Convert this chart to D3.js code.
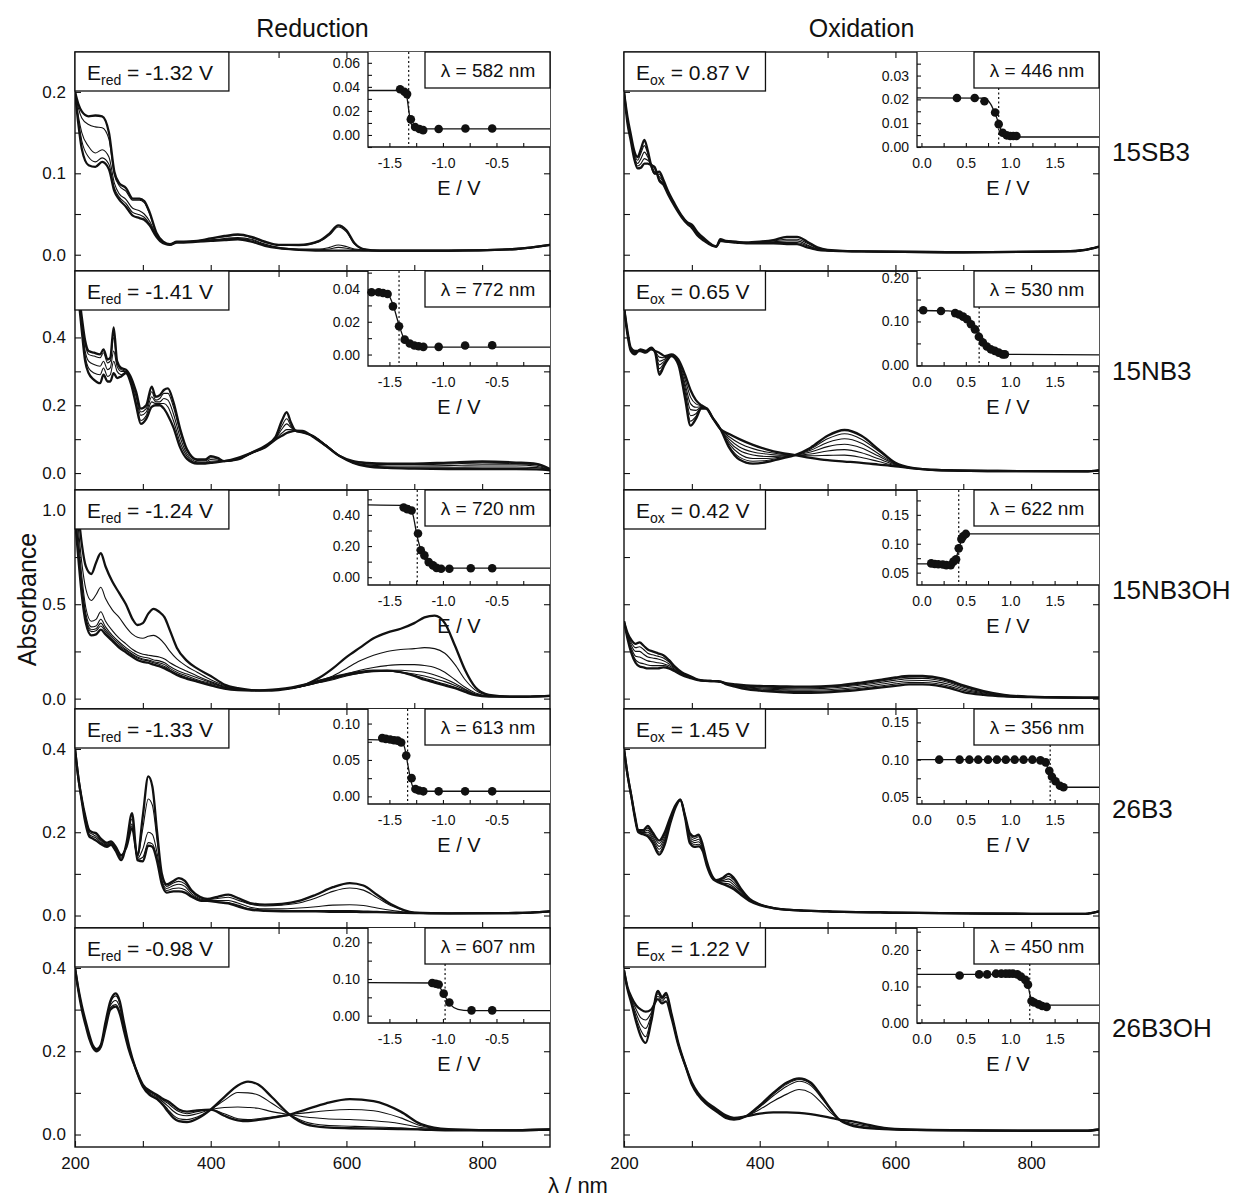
<!DOCTYPE html>
<html>
<head>
<meta charset="utf-8">
<script src="https://cdn.jsdelivr.net/npm/d3@7"></script>
<style>
  body { margin: 0; background: #fff; }
  text { font-family: "Liberation Sans", Arial, sans-serif; fill: #111; }
</style>
</head>
<body>
<div id="chart"></div>
<script>
// ---- rows / labels ----
var compounds = ["15SB3", "15NB3", "15NB3OH", "26B3", "26B3OH"];
var eRed = [-1.32, -1.41, -1.24, -1.33, -0.98];
var eOx = [0.87, 0.65, 0.42, 1.45, 1.22];
var lamRed = [582, 772, 720, 613, 607];
var lamOx = [446, 530, 622, 356, 450];

// main y axes per row
var yDomains = [[-0.02, 0.249], [-0.05, 0.596], [-0.055, 1.105], [-0.03, 0.496], [-0.03, 0.496]];
var yTickStep = [0.05, 0.1, 0.25, 0.1, 0.1];
var yLabelVals = [[0, 0.1, 0.2], [0, 0.2, 0.4], [0, 0.5, 1.0], [0, 0.2, 0.4], [0, 0.2, 0.4]];
var xTickVals = [300, 400, 500, 600, 700, 800];
var xLabelVals = [200, 400, 600, 800];

// ---- spectra: 15SB3 ----
var wl_15SB3_red = [200,205,210,220,230,240,250,258,265,275,285,295,302,310,320,330,340,350,360,380,400,420,440,460,480,500,530,560,575,588,600,612,625,650,750,850,900];
var abs_15SB3_red = [
 [0.200,0.185,0.176,0.170,0.171,0.170,0.150,0.102,0.088,0.082,0.069,0.069,0.066,0.052,0.027,0.016,0.013,0.016,0.016,0.017,0.020,0.023,0.025,0.022,0.016,0.012,0.012,0.017,0.026,0.036,0.030,0.014,0.007,0.005,0.005,0.007,0.012],
 [0.200,0.180,0.168,0.160,0.157,0.156,0.142,0.098,0.085,0.078,0.067,0.067,0.064,0.050,0.026,0.016,0.013,0.016,0.016,0.017,0.020,0.022,0.024,0.021,0.015,0.012,0.011,0.016,0.024,0.034,0.028,0.013,0.007,0.005,0.005,0.007,0.012],
 [0.200,0.170,0.150,0.133,0.125,0.129,0.120,0.088,0.075,0.068,0.057,0.054,0.050,0.041,0.024,0.015,0.012,0.015,0.015,0.016,0.018,0.020,0.021,0.019,0.013,0.009,0.007,0.007,0.009,0.012,0.010,0.007,0.006,0.005,0.005,0.007,0.012],
 [0.200,0.165,0.140,0.120,0.114,0.119,0.111,0.082,0.071,0.063,0.052,0.049,0.046,0.038,0.023,0.015,0.012,0.015,0.015,0.016,0.018,0.019,0.020,0.018,0.012,0.008,0.006,0.006,0.007,0.009,0.008,0.006,0.005,0.005,0.005,0.007,0.012],
 [0.200,0.160,0.130,0.110,0.108,0.114,0.105,0.078,0.068,0.059,0.048,0.045,0.043,0.036,0.022,0.014,0.012,0.015,0.015,0.016,0.017,0.018,0.019,0.016,0.011,0.008,0.006,0.005,0.005,0.005,0.005,0.005,0.005,0.005,0.005,0.007,0.012]
];
var wl_15SB3_ox = [200,205,210,215,220,225,230,235,240,245,252,258,265,275,285,293,300,308,318,330,336,342,350,365,380,400,420,440,455,470,485,500,550,700,850,880,900];
var abs_15SB3_ox = [
 [0.200,0.170,0.148,0.128,0.120,0.130,0.141,0.128,0.110,0.100,0.102,0.092,0.078,0.062,0.048,0.040,0.037,0.028,0.020,0.012,0.010,0.019,0.017,0.016,0.015,0.016,0.018,0.022,0.022,0.016,0.009,0.006,0.004,0.003,0.004,0.006,0.010],
 [0.200,0.168,0.146,0.125,0.116,0.125,0.134,0.124,0.108,0.099,0.099,0.090,0.077,0.061,0.048,0.040,0.036,0.027,0.019,0.012,0.010,0.018,0.017,0.016,0.015,0.015,0.017,0.019,0.019,0.014,0.008,0.005,0.004,0.003,0.004,0.006,0.010],
 [0.200,0.166,0.144,0.122,0.112,0.118,0.126,0.120,0.110,0.102,0.096,0.089,0.076,0.060,0.047,0.039,0.035,0.026,0.018,0.011,0.010,0.018,0.016,0.015,0.015,0.015,0.016,0.017,0.017,0.012,0.007,0.005,0.004,0.003,0.004,0.006,0.010],
 [0.200,0.164,0.142,0.120,0.109,0.112,0.118,0.116,0.112,0.106,0.093,0.087,0.075,0.060,0.046,0.039,0.034,0.025,0.018,0.011,0.010,0.017,0.016,0.015,0.014,0.014,0.015,0.015,0.015,0.011,0.007,0.005,0.004,0.003,0.004,0.006,0.010],
 [0.200,0.162,0.140,0.118,0.106,0.107,0.112,0.112,0.110,0.108,0.091,0.086,0.074,0.059,0.046,0.038,0.033,0.024,0.017,0.011,0.010,0.017,0.016,0.015,0.014,0.014,0.014,0.013,0.013,0.009,0.006,0.005,0.004,0.003,0.004,0.006,0.010]
];

// ---- spectra: 15NB3 ----
var wl_15NB3_red = [200,205,210,215,220,228,237,242,248,252,257,262,268,275,283,290,297,305,313,319,325,331,337,345,355,365,380,392,400,410,420,440,460,480,495,505,512,518,525,535,550,570,590,610,630,660,700,750,800,850,880,900];
var abs_15NB3_red = [
 [0.62,0.54,0.46,0.39,0.36,0.355,0.35,0.365,0.335,0.34,0.43,0.33,0.31,0.305,0.28,0.24,0.19,0.20,0.255,0.225,0.23,0.245,0.25,0.21,0.13,0.07,0.04,0.04,0.05,0.045,0.035,0.04,0.06,0.08,0.105,0.155,0.18,0.15,0.125,0.12,0.11,0.08,0.05,0.03,0.02,0.015,0.013,0.012,0.012,0.012,0.011,0.008],
 [0.62,0.53,0.45,0.38,0.35,0.345,0.34,0.355,0.325,0.33,0.40,0.325,0.305,0.30,0.275,0.235,0.18,0.19,0.24,0.215,0.22,0.235,0.235,0.195,0.12,0.065,0.037,0.036,0.045,0.042,0.034,0.04,0.058,0.078,0.10,0.14,0.16,0.14,0.123,0.12,0.11,0.082,0.05,0.03,0.022,0.018,0.017,0.017,0.018,0.018,0.016,0.01],
 [0.62,0.53,0.44,0.36,0.33,0.32,0.315,0.33,0.305,0.31,0.36,0.315,0.30,0.30,0.27,0.225,0.17,0.18,0.225,0.21,0.21,0.22,0.215,0.175,0.105,0.057,0.033,0.032,0.04,0.038,0.034,0.042,0.058,0.078,0.10,0.13,0.145,0.135,0.125,0.122,0.11,0.083,0.05,0.032,0.024,0.021,0.021,0.022,0.024,0.024,0.02,0.01],
 [0.62,0.52,0.43,0.345,0.31,0.295,0.29,0.31,0.285,0.29,0.33,0.30,0.29,0.298,0.265,0.21,0.155,0.17,0.21,0.205,0.205,0.205,0.195,0.155,0.09,0.05,0.03,0.03,0.035,0.035,0.035,0.043,0.058,0.076,0.10,0.118,0.128,0.128,0.126,0.123,0.108,0.082,0.05,0.034,0.027,0.025,0.025,0.027,0.03,0.028,0.024,0.01],
 [0.62,0.52,0.42,0.33,0.295,0.275,0.265,0.29,0.27,0.27,0.295,0.28,0.285,0.295,0.26,0.20,0.145,0.16,0.195,0.20,0.20,0.19,0.17,0.135,0.075,0.042,0.028,0.028,0.03,0.032,0.035,0.045,0.06,0.075,0.098,0.11,0.118,0.122,0.125,0.124,0.108,0.08,0.05,0.035,0.03,0.028,0.028,0.031,0.034,0.031,0.027,0.012]
];
var wl_15NB3_ox = [200,205,210,216,224,232,240,246,252,260,270,280,290,298,306,314,322,330,342,355,370,390,410,430,452,475,500,525,550,575,600,625,660,750,880,900];
var abs_15NB3_ox = [
 [0.49,0.41,0.36,0.35,0.365,0.36,0.37,0.355,0.29,0.32,0.345,0.32,0.22,0.14,0.16,0.19,0.19,0.165,0.13,0.075,0.04,0.028,0.032,0.042,0.053,0.075,0.11,0.127,0.11,0.07,0.03,0.015,0.009,0.006,0.005,0.008],
 [0.49,0.411,0.361,0.351,0.364,0.359,0.369,0.356,0.298,0.323,0.346,0.322,0.228,0.153,0.167,0.191,0.19,0.165,0.13,0.08,0.047,0.035,0.037,0.044,0.053,0.071,0.101,0.116,0.10,0.065,0.029,0.015,0.009,0.006,0.005,0.008],
 [0.49,0.413,0.363,0.353,0.364,0.359,0.369,0.356,0.308,0.327,0.346,0.324,0.24,0.169,0.175,0.193,0.19,0.165,0.13,0.086,0.057,0.043,0.043,0.047,0.053,0.067,0.09,0.101,0.088,0.057,0.027,0.015,0.009,0.006,0.005,0.008],
 [0.49,0.415,0.365,0.355,0.363,0.358,0.368,0.357,0.319,0.331,0.347,0.327,0.252,0.187,0.185,0.195,0.19,0.165,0.13,0.093,0.067,0.053,0.049,0.05,0.053,0.062,0.078,0.085,0.074,0.05,0.026,0.015,0.009,0.006,0.005,0.008],
 [0.49,0.416,0.366,0.356,0.362,0.357,0.367,0.358,0.33,0.336,0.348,0.329,0.263,0.205,0.194,0.196,0.19,0.165,0.13,0.10,0.077,0.062,0.056,0.053,0.053,0.056,0.065,0.069,0.06,0.042,0.024,0.014,0.009,0.006,0.005,0.008],
 [0.49,0.418,0.368,0.358,0.361,0.356,0.366,0.359,0.342,0.34,0.349,0.332,0.276,0.224,0.204,0.198,0.19,0.165,0.13,0.107,0.088,0.072,0.062,0.056,0.053,0.051,0.052,0.053,0.046,0.034,0.022,0.014,0.009,0.006,0.005,0.008],
 [0.49,0.42,0.37,0.36,0.36,0.355,0.365,0.36,0.355,0.345,0.35,0.335,0.29,0.245,0.215,0.20,0.19,0.165,0.13,0.115,0.10,0.083,0.07,0.06,0.053,0.045,0.038,0.034,0.03,0.025,0.02,0.014,0.009,0.006,0.005,0.008]
];

// ---- spectra: 15NB3OH ----
var wl_15NB3OH_red = [200,205,210,216,224,231,238,245,255,265,275,285,292,300,308,316,324,332,340,350,365,380,400,420,440,460,480,500,520,540,560,580,600,620,640,660,680,700,715,730,745,760,775,790,810,850,900];
var abs_15NB3OH_red = [
 [1.15,0.98,0.82,0.70,0.66,0.72,0.77,0.70,0.62,0.56,0.50,0.42,0.39,0.40,0.45,0.475,0.46,0.43,0.36,0.27,0.20,0.16,0.12,0.075,0.055,0.045,0.042,0.045,0.055,0.075,0.11,0.16,0.22,0.27,0.32,0.35,0.37,0.40,0.43,0.44,0.40,0.28,0.15,0.06,0.02,0.01,0.015],
 [1.10,0.90,0.72,0.58,0.52,0.55,0.59,0.53,0.47,0.43,0.38,0.34,0.325,0.32,0.33,0.335,0.32,0.29,0.25,0.21,0.17,0.14,0.10,0.07,0.052,0.045,0.043,0.047,0.055,0.07,0.095,0.12,0.16,0.20,0.23,0.25,0.26,0.265,0.27,0.265,0.24,0.18,0.10,0.045,0.018,0.01,0.015],
 [1.05,0.85,0.65,0.48,0.41,0.42,0.46,0.41,0.36,0.32,0.29,0.26,0.245,0.235,0.23,0.225,0.22,0.21,0.19,0.17,0.145,0.12,0.09,0.065,0.05,0.044,0.043,0.047,0.055,0.068,0.085,0.105,0.13,0.15,0.165,0.175,0.18,0.18,0.175,0.165,0.14,0.10,0.06,0.03,0.015,0.01,0.015],
 [1.0,0.8,0.61,0.45,0.38,0.385,0.42,0.38,0.335,0.30,0.27,0.245,0.23,0.22,0.215,0.205,0.2,0.19,0.17,0.15,0.13,0.11,0.085,0.062,0.048,0.043,0.043,0.047,0.055,0.068,0.085,0.10,0.12,0.135,0.145,0.15,0.15,0.145,0.14,0.125,0.105,0.08,0.05,0.025,0.013,0.01,0.015],
 [0.98,0.78,0.59,0.43,0.365,0.37,0.40,0.365,0.325,0.29,0.26,0.235,0.22,0.21,0.205,0.195,0.19,0.18,0.16,0.14,0.12,0.10,0.08,0.06,0.047,0.043,0.043,0.047,0.056,0.07,0.088,0.105,0.122,0.135,0.143,0.145,0.14,0.13,0.12,0.105,0.09,0.07,0.045,0.022,0.012,0.01,0.015],
 [0.96,0.76,0.57,0.42,0.355,0.36,0.385,0.355,0.315,0.28,0.255,0.23,0.215,0.205,0.20,0.19,0.182,0.17,0.152,0.132,0.112,0.095,0.075,0.057,0.046,0.043,0.044,0.048,0.057,0.072,0.09,0.108,0.125,0.138,0.145,0.145,0.138,0.122,0.108,0.092,0.077,0.06,0.04,0.02,0.012,0.01,0.015],
 [0.95,0.74,0.55,0.40,0.335,0.34,0.365,0.34,0.305,0.27,0.245,0.22,0.205,0.195,0.19,0.18,0.172,0.16,0.145,0.125,0.105,0.09,0.07,0.053,0.045,0.043,0.045,0.05,0.06,0.075,0.095,0.113,0.13,0.142,0.148,0.148,0.14,0.12,0.10,0.085,0.07,0.055,0.035,0.018,0.011,0.01,0.015]
];
var wl_15NB3OH_ox = [200,205,211,217,223,229,235,242,250,258,266,275,285,297,309,320,330,338,342,350,365,380,400,430,460,490,520,550,580,600,620,640,660,680,700,730,760,800,850,900];
var abs_15NB3OH_ox = [
 [0.41,0.35,0.31,0.29,0.298,0.28,0.26,0.25,0.24,0.23,0.205,0.17,0.14,0.12,0.10,0.095,0.093,0.092,0.09,0.077,0.062,0.05,0.042,0.035,0.03,0.032,0.038,0.048,0.06,0.068,0.075,0.075,0.07,0.055,0.035,0.02,0.012,0.008,0.006,0.005],
 [0.41,0.345,0.295,0.27,0.275,0.26,0.24,0.232,0.225,0.215,0.195,0.165,0.137,0.118,0.10,0.095,0.093,0.092,0.09,0.078,0.065,0.054,0.047,0.041,0.037,0.039,0.045,0.055,0.068,0.078,0.085,0.085,0.08,0.065,0.045,0.026,0.015,0.009,0.006,0.005],
 [0.41,0.34,0.28,0.25,0.25,0.235,0.22,0.215,0.21,0.20,0.185,0.16,0.134,0.116,0.099,0.095,0.093,0.092,0.09,0.079,0.068,0.058,0.052,0.047,0.044,0.046,0.052,0.063,0.077,0.088,0.095,0.096,0.09,0.075,0.052,0.03,0.017,0.009,0.006,0.005],
 [0.41,0.33,0.265,0.225,0.22,0.21,0.20,0.195,0.19,0.185,0.175,0.155,0.131,0.114,0.099,0.094,0.093,0.092,0.09,0.08,0.07,0.062,0.057,0.053,0.051,0.053,0.06,0.072,0.087,0.098,0.106,0.107,0.1,0.084,0.06,0.034,0.018,0.01,0.006,0.005],
 [0.41,0.325,0.25,0.205,0.19,0.185,0.178,0.175,0.175,0.175,0.168,0.15,0.128,0.112,0.098,0.094,0.093,0.092,0.09,0.081,0.073,0.066,0.062,0.059,0.057,0.059,0.066,0.078,0.094,0.106,0.114,0.115,0.107,0.09,0.065,0.037,0.019,0.01,0.006,0.005],
 [0.41,0.32,0.24,0.19,0.17,0.165,0.16,0.16,0.16,0.165,0.16,0.145,0.125,0.11,0.098,0.094,0.093,0.092,0.09,0.082,0.075,0.07,0.067,0.065,0.063,0.065,0.072,0.085,0.10,0.112,0.12,0.12,0.112,0.095,0.07,0.04,0.02,0.01,0.006,0.005]
];

// ---- spectra: 26B3 ----
var wl_26B3_red = [200,205,210,215,221,226,231,238,247,253,260,268,276,284,292,300,308,314,321,328,335,345,353,362,372,384,395,410,426,440,458,480,505,530,555,580,605,625,645,668,700,750,850,900];
var abs_26B3_red = [
 [0.40,0.33,0.28,0.24,0.205,0.20,0.198,0.185,0.175,0.178,0.165,0.145,0.165,0.21,0.145,0.24,0.334,0.31,0.20,0.10,0.075,0.083,0.09,0.083,0.06,0.045,0.04,0.045,0.05,0.042,0.03,0.026,0.028,0.035,0.05,0.068,0.078,0.072,0.05,0.025,0.007,0.005,0.006,0.01],
 [0.40,0.33,0.28,0.24,0.205,0.20,0.195,0.183,0.172,0.175,0.163,0.143,0.167,0.215,0.14,0.21,0.28,0.265,0.18,0.095,0.07,0.078,0.082,0.076,0.057,0.043,0.038,0.041,0.044,0.037,0.027,0.023,0.025,0.03,0.042,0.058,0.066,0.061,0.043,0.022,0.007,0.005,0.006,0.01],
 [0.40,0.33,0.28,0.235,0.20,0.195,0.19,0.18,0.17,0.173,0.16,0.14,0.17,0.22,0.137,0.16,0.20,0.195,0.15,0.085,0.065,0.072,0.075,0.07,0.052,0.04,0.036,0.036,0.036,0.03,0.02,0.016,0.016,0.018,0.021,0.025,0.026,0.024,0.018,0.012,0.006,0.005,0.006,0.01],
 [0.40,0.33,0.275,0.23,0.195,0.19,0.186,0.176,0.168,0.172,0.158,0.137,0.172,0.232,0.135,0.14,0.175,0.172,0.138,0.08,0.06,0.065,0.066,0.062,0.048,0.038,0.035,0.033,0.031,0.025,0.016,0.013,0.012,0.012,0.012,0.012,0.012,0.011,0.01,0.008,0.006,0.005,0.006,0.01],
 [0.40,0.33,0.275,0.225,0.19,0.185,0.18,0.172,0.165,0.17,0.155,0.133,0.175,0.246,0.133,0.13,0.168,0.165,0.13,0.075,0.055,0.058,0.058,0.055,0.045,0.036,0.035,0.032,0.029,0.022,0.014,0.011,0.01,0.01,0.01,0.009,0.009,0.008,0.008,0.007,0.006,0.005,0.006,0.01]
];
var wl_26B3_ox = [200,205,211,216,221,228,235,242,252,260,268,276,283,290,297,304,310,316,322,330,336,345,354,362,372,385,400,420,450,500,600,700,800,880,900];
var abs_26B3_ox = [
 [0.40,0.34,0.285,0.24,0.205,0.205,0.215,0.20,0.18,0.20,0.235,0.265,0.278,0.24,0.198,0.19,0.194,0.17,0.13,0.095,0.085,0.09,0.10,0.09,0.065,0.04,0.027,0.018,0.013,0.01,0.007,0.005,0.004,0.004,0.01],
 [0.40,0.34,0.285,0.239,0.204,0.203,0.21,0.195,0.173,0.194,0.232,0.264,0.278,0.239,0.193,0.185,0.189,0.167,0.128,0.094,0.084,0.087,0.094,0.085,0.062,0.039,0.027,0.018,0.013,0.01,0.007,0.005,0.004,0.004,0.01],
 [0.40,0.34,0.285,0.238,0.203,0.201,0.205,0.19,0.166,0.188,0.229,0.263,0.278,0.238,0.188,0.18,0.183,0.164,0.126,0.093,0.084,0.084,0.088,0.079,0.059,0.038,0.026,0.018,0.013,0.01,0.007,0.005,0.004,0.004,0.01],
 [0.40,0.34,0.285,0.237,0.202,0.199,0.2,0.185,0.159,0.182,0.226,0.262,0.278,0.237,0.183,0.175,0.177,0.161,0.124,0.092,0.083,0.081,0.082,0.073,0.056,0.037,0.026,0.018,0.013,0.01,0.007,0.005,0.004,0.004,0.01],
 [0.40,0.34,0.285,0.236,0.201,0.197,0.195,0.18,0.152,0.176,0.223,0.261,0.278,0.236,0.178,0.17,0.171,0.158,0.122,0.091,0.083,0.078,0.076,0.068,0.053,0.036,0.025,0.018,0.013,0.01,0.007,0.005,0.004,0.004,0.01],
 [0.40,0.34,0.285,0.235,0.20,0.195,0.19,0.175,0.146,0.17,0.22,0.26,0.278,0.235,0.174,0.165,0.166,0.155,0.12,0.09,0.082,0.076,0.07,0.063,0.05,0.035,0.025,0.018,0.013,0.01,0.007,0.005,0.004,0.004,0.01]
];

// ---- spectra: 26B3OH ----
var wl_26B3OH_red = [200,205,210,216,221,226,232,238,245,252,260,266,272,280,289,300,310,321,330,337,345,353,365,380,400,420,440,455,470,490,516,540,570,605,640,680,710,750,850,900];
var abs_26B3OH_red = [
 [0.40,0.35,0.31,0.27,0.24,0.215,0.205,0.215,0.27,0.32,0.339,0.32,0.27,0.21,0.16,0.115,0.095,0.085,0.07,0.055,0.04,0.032,0.03,0.038,0.06,0.09,0.118,0.127,0.12,0.09,0.048,0.025,0.017,0.015,0.014,0.013,0.012,0.01,0.01,0.012],
 [0.40,0.348,0.307,0.268,0.238,0.214,0.204,0.214,0.267,0.316,0.333,0.315,0.266,0.208,0.16,0.116,0.097,0.087,0.073,0.06,0.046,0.038,0.036,0.042,0.06,0.082,0.101,0.10,0.095,0.075,0.048,0.03,0.022,0.02,0.018,0.016,0.013,0.011,0.01,0.012],
 [0.40,0.347,0.305,0.265,0.235,0.212,0.202,0.212,0.262,0.31,0.322,0.305,0.26,0.205,0.16,0.118,0.1,0.09,0.078,0.068,0.056,0.048,0.045,0.05,0.06,0.065,0.066,0.065,0.063,0.055,0.048,0.042,0.038,0.036,0.033,0.026,0.017,0.012,0.01,0.012],
 [0.40,0.346,0.302,0.262,0.232,0.211,0.201,0.211,0.258,0.305,0.312,0.295,0.255,0.202,0.16,0.119,0.103,0.093,0.082,0.075,0.064,0.055,0.05,0.055,0.06,0.05,0.038,0.036,0.038,0.042,0.048,0.052,0.057,0.06,0.057,0.04,0.021,0.012,0.01,0.012],
 [0.40,0.345,0.30,0.26,0.23,0.21,0.20,0.21,0.255,0.30,0.307,0.29,0.25,0.20,0.16,0.12,0.105,0.095,0.085,0.08,0.07,0.06,0.055,0.058,0.06,0.045,0.034,0.032,0.035,0.04,0.048,0.06,0.075,0.085,0.08,0.055,0.025,0.013,0.01,0.012]
];
var wl_26B3OH_ox = [200,205,211,218,225,232,240,250,256,262,270,280,291,300,309,320,330,339,350,362,380,400,420,440,458,475,490,505,517,535,555,583,620,700,800,880,900];
var abs_26B3OH_ox = [
 [0.394,0.35,0.315,0.27,0.235,0.22,0.27,0.345,0.33,0.34,0.29,0.22,0.163,0.12,0.095,0.075,0.062,0.052,0.04,0.036,0.044,0.07,0.1,0.125,0.135,0.125,0.095,0.06,0.036,0.022,0.016,0.013,0.011,0.01,0.009,0.009,0.012],
 [0.394,0.352,0.318,0.28,0.25,0.235,0.28,0.342,0.328,0.338,0.289,0.219,0.163,0.121,0.096,0.076,0.063,0.053,0.041,0.037,0.044,0.068,0.097,0.121,0.132,0.122,0.093,0.059,0.036,0.023,0.017,0.013,0.011,0.01,0.009,0.009,0.012],
 [0.394,0.352,0.32,0.29,0.265,0.255,0.285,0.338,0.325,0.335,0.287,0.218,0.163,0.122,0.097,0.077,0.064,0.054,0.042,0.037,0.044,0.066,0.093,0.116,0.128,0.118,0.09,0.058,0.036,0.024,0.018,0.014,0.011,0.01,0.009,0.009,0.012],
 [0.394,0.353,0.325,0.3,0.28,0.275,0.292,0.332,0.32,0.33,0.285,0.217,0.163,0.123,0.098,0.078,0.066,0.056,0.044,0.038,0.044,0.06,0.08,0.097,0.108,0.1,0.078,0.052,0.036,0.027,0.021,0.015,0.012,0.01,0.009,0.009,0.012],
 [0.394,0.355,0.33,0.31,0.30,0.295,0.30,0.325,0.315,0.32,0.28,0.215,0.163,0.125,0.1,0.08,0.068,0.058,0.046,0.04,0.044,0.05,0.053,0.053,0.052,0.049,0.045,0.04,0.036,0.032,0.025,0.016,0.012,0.01,0.009,0.009,0.012]
];

// ---- insets (absorbance vs potential) ----
var insetXRed = [-1.7, 0.0], insetXOx = [-0.05, 2.0];
var insetTicksRed = [-1.5, -1.25, -1.0, -0.75, -0.5, -0.25], insetLabRed = [-1.5, -1.0, -0.5];
var insetTicksOx = [0, 0.25, 0.5, 0.75, 1.0, 1.25, 1.5, 1.75], insetLabOx = [0, 0.5, 1.0, 1.5];

var insYRed = [[-0.01, 0.069], [-0.007, 0.051], [-0.05, 0.56], [-0.0105, 0.12], [-0.02, 0.239]];
var insYOx = [[0, 0.0399], [-0.0015, 0.215], [0.0286, 0.193], [0.0405, 0.168], [0, 0.26]];
var insStepRed = [[0.02, 0.01], [0.02, 0.01], [0.2, 0.1], [0.05, 0.025], [0.1, 0.05]];
var insStepOx = [[0.01, 0.005], [0.1, 0.05], [0.05, 0.025], [0.05, 0.025], [0.1, 0.05]];

var ptE_15SB3_red = [-1.40,-1.36,-1.335,-1.30,-1.26,-1.22,-1.185,-1.04,-0.79,-0.54];
var ptA_15SB3_red = [0.038,0.036,0.034,0.013,0.0066,0.005,0.004,0.005,0.0054,0.0054];
var fit_15SB3_red = [[-1.7,0.037],[-1.37,0.037],[-1.34,0.033],[-1.32,0.021],[-1.30,0.010],[-1.27,0.006],[-1.22,0.005],[0,0.005]];
var ptE_15NB3_red = [-1.667,-1.60,-1.56,-1.517,-1.467,-1.41,-1.357,-1.31,-1.267,-1.227,-1.183,-1.04,-0.793,-0.54];
var ptA_15NB3_red = [0.038,0.038,0.0376,0.037,0.0294,0.0173,0.0091,0.0067,0.0055,0.0051,0.0047,0.0047,0.0055,0.0057];
var fit_15NB3_red = [[-1.7,0.037],[-1.52,0.037],[-1.47,0.031],[-1.41,0.018],[-1.36,0.009],[-1.30,0.005],[-1.22,0.0045],[0,0.0045]];
var ptE_15NB3OH_red = [-1.367,-1.333,-1.293,-1.233,-1.207,-1.173,-1.133,-1.093,-1.06,-1.017,-0.94,-0.74,-0.54];
var ptA_15NB3OH_red = [0.448,0.437,0.428,0.281,0.173,0.14,0.097,0.076,0.06,0.054,0.054,0.058,0.058];
var fit_15NB3OH_red = [[-1.7,0.465],[-1.32,0.46],[-1.28,0.40],[-1.24,0.26],[-1.20,0.16],[-1.14,0.09],[-1.05,0.062],[-0.95,0.058],[0,0.058]];
var ptE_26B3_red = [-1.567,-1.533,-1.493,-1.457,-1.423,-1.39,-1.343,-1.293,-1.257,-1.223,-1.183,-1.04,-0.793,-0.54];
var ptA_26B3_red = [0.080,0.079,0.078,0.077,0.0766,0.074,0.056,0.025,0.010,0.008,0.0069,0.0069,0.0069,0.0069];
var fit_26B3_red = [[-1.7,0.078],[-1.40,0.077],[-1.36,0.068],[-1.33,0.045],[-1.30,0.022],[-1.27,0.010],[-1.22,0.007],[0,0.007]];
var ptE_26B3OH_red = [-1.10,-1.067,-1.04,-0.993,-0.94,-0.733,-0.54];
var ptA_26B3OH_red = [0.089,0.087,0.085,0.06,0.036,0.0145,0.0145];
var fit_26B3OH_red = [[-1.7,0.09],[-1.08,0.089],[-1.03,0.078],[-0.98,0.052],[-0.93,0.03],[-0.86,0.017],[-0.75,0.0135],[0,0.0135]];

var ptE_15SB3_ox = [0.40,0.60,0.71,0.83,0.87,0.915,0.96,1.0,1.035,1.07];
var ptA_15SB3_ox = [0.0206,0.0206,0.0192,0.0145,0.0096,0.006,0.0049,0.0046,0.0046,0.0046];
var fit_15SB3_ox = [[-0.05,0.0206],[0.70,0.0205],[0.78,0.018],[0.84,0.013],[0.90,0.007],[0.97,0.0047],[1.05,0.0042],[2.0,0.0042]];
var ptE_15NB3_ox = [0.02,0.22,0.38,0.424,0.469,0.513,0.558,0.603,0.647,0.692,0.737,0.781,0.826,0.87,0.915,0.94];
var ptA_15NB3_ox = [0.1255,0.124,0.119,0.116,0.111,0.105,0.0935,0.082,0.065,0.052,0.043,0.0365,0.033,0.029,0.025,0.025];
var fit_15NB3_ox = [[-0.05,0.125],[0.30,0.124],[0.45,0.114],[0.55,0.098],[0.65,0.074],[0.75,0.046],[0.85,0.031],[0.97,0.025],[2.0,0.024]];
var ptE_15NB3OH_ox = [0.11,0.15,0.19,0.24,0.28,0.33,0.36,0.39,0.42,0.45,0.47,0.50];
var ptA_15NB3OH_ox = [0.066,0.065,0.0645,0.064,0.063,0.063,0.069,0.073,0.092,0.108,0.113,0.117];
var fit_15NB3OH_ox = [[-0.05,0.065],[0.33,0.065],[0.38,0.072],[0.42,0.09],[0.46,0.11],[0.52,0.117],[2.0,0.117]];
var ptE_26B3_ox = [0.2,0.43,0.54,0.64,0.75,0.85,0.95,1.05,1.15,1.25,1.34,1.40,1.44,1.47,1.51,1.56,1.60];
var ptA_26B3_ox = [0.10,0.10,0.10,0.10,0.10,0.10,0.10,0.10,0.10,0.10,0.099,0.0964,0.085,0.077,0.071,0.065,0.063];
var fit_26B3_ox = [[-0.05,0.10],[1.32,0.10],[1.40,0.095],[1.45,0.08],[1.52,0.068],[1.62,0.063],[2.0,0.063]];
var ptE_26B3OH_ox = [0.43,0.65,0.74,0.84,0.90,0.95,0.99,1.03,1.08,1.12,1.17,1.20,1.24,1.27,1.32,1.36,1.41];
var ptA_26B3OH_ox = [0.130,0.133,0.133,0.135,0.135,0.135,0.135,0.135,0.133,0.127,0.118,0.105,0.06,0.056,0.051,0.0465,0.044];
var fit_26B3OH_ox = [[-0.05,0.133],[1.05,0.133],[1.15,0.122],[1.20,0.104],[1.22,0.08],[1.25,0.06],[1.32,0.051],[1.45,0.049],[2.0,0.049]];

// assemble per panel
var spectra = [
  [{wl: wl_15SB3_red, abs: abs_15SB3_red}, {wl: wl_15SB3_ox, abs: abs_15SB3_ox}],
  [{wl: wl_15NB3_red, abs: abs_15NB3_red}, {wl: wl_15NB3_ox, abs: abs_15NB3_ox}],
  [{wl: wl_15NB3OH_red, abs: abs_15NB3OH_red}, {wl: wl_15NB3OH_ox, abs: abs_15NB3OH_ox}],
  [{wl: wl_26B3_red, abs: abs_26B3_red}, {wl: wl_26B3_ox, abs: abs_26B3_ox}],
  [{wl: wl_26B3OH_red, abs: abs_26B3OH_red}, {wl: wl_26B3OH_ox, abs: abs_26B3OH_ox}]
];
var insets = [
  [{e: ptE_15SB3_red, a: ptA_15SB3_red, fit: fit_15SB3_red}, {e: ptE_15SB3_ox, a: ptA_15SB3_ox, fit: fit_15SB3_ox}],
  [{e: ptE_15NB3_red, a: ptA_15NB3_red, fit: fit_15NB3_red}, {e: ptE_15NB3_ox, a: ptA_15NB3_ox, fit: fit_15NB3_ox}],
  [{e: ptE_15NB3OH_red, a: ptA_15NB3OH_red, fit: fit_15NB3OH_red}, {e: ptE_15NB3OH_ox, a: ptA_15NB3OH_ox, fit: fit_15NB3OH_ox}],
  [{e: ptE_26B3_red, a: ptA_26B3_red, fit: fit_26B3_red}, {e: ptE_26B3_ox, a: ptA_26B3_ox, fit: fit_26B3_ox}],
  [{e: ptE_26B3OH_red, a: ptA_26B3OH_red, fit: fit_26B3OH_red}, {e: ptE_26B3OH_ox, a: ptA_26B3OH_ox, fit: fit_26B3OH_ox}]
];

// ---- layout ----
var W = 1233, H = 1200;
var colX = [75, 624], pw = 475, ph = 219, top0 = 52;
var insW = 182, insH = 95;
var ink = "#111";

var svg = d3.select("#chart").append("svg").attr("width", W).attr("height", H);

function stepTicks(dom, step) {
  var out = [], k0 = Math.ceil(dom[0] / step - 1e-9), k1 = Math.floor(dom[1] / step + 1e-9);
  for (var k = k0; k <= k1; k++) out.push(+(k * step).toFixed(6));
  return out;
}
function inList(v, list) {
  return list.some(function(u) { return Math.abs(u - v) < 1e-6; });
}
function styleAxis(g, fs) {
  g.select(".domain").remove();
  g.attr("font-family", null).attr("font-size", null);
  g.selectAll("line").attr("stroke", ink).attr("stroke-width", 1.1);
  g.selectAll("text").style("font-size", fs + "px").attr("fill", ink);
}

compounds.forEach(function(name, r) {
  [0, 1].forEach(function(c) {
    var px = colX[c], py = top0 + r * ph;
    var x = d3.scaleLinear().domain([200, 900]).range([px, px + pw]);
    var y = d3.scaleLinear().domain(yDomains[r]).range([py + ph, py]);
    var g = svg.append("g");

    var cid = "clip" + r + "_" + c;
    svg.append("clipPath").attr("id", cid).append("rect")
      .attr("x", px).attr("y", py).attr("width", pw).attr("height", ph);

    // spectra
    var sp = spectra[r][c];
    var line = d3.line()
      .x(function(d, i) { return x(sp.wl[i]); })
      .y(function(d) { return y(d); })
      .curve(d3.curveMonotoneX);
    g.append("g").attr("clip-path", "url(#" + cid + ")")
      .selectAll("path").data(sp.abs).enter().append("path")
      .attr("d", line).attr("fill", "none").attr("stroke", ink)
      .attr("stroke-linejoin", "round")
      .attr("stroke-width", function(d, i) { return (i == 0 || i == sp.abs.length - 1) ? 2.3 : 1.1; });

    // axes (inward ticks all round)
    var isBottom = (r == compounds.length - 1);
    var bx = g.append("g").attr("transform", "translate(0," + (py + ph) + ")")
      .call(d3.axisBottom(x).tickValues(isBottom ? [200, 300, 400, 500, 600, 700, 800] : xTickVals)
        .tickSize(-6).tickPadding(10)
        .tickFormat(function(v) { return (isBottom && inList(v, xLabelVals)) ? String(v) : ""; }));
    styleAxis(bx, 17);
    var tx = g.append("g").attr("transform", "translate(0," + py + ")")
      .call(d3.axisTop(x).tickValues(xTickVals).tickSize(-6).tickFormat(""));
    styleAxis(tx, 17);
    var yt = stepTicks(yDomains[r], yTickStep[r]);
    var ly = g.append("g").attr("transform", "translate(" + px + ",0)")
      .call(d3.axisLeft(y).tickValues(yt).tickSize(-6).tickPadding(9)
        .tickFormat(function(v) { return (c == 0 && inList(v, yLabelVals[r])) ? v.toFixed(1) : ""; }));
    styleAxis(ly, 17);
    var ry = g.append("g").attr("transform", "translate(" + (px + pw) + ",0)")
      .call(d3.axisRight(y).tickValues(yt).tickSize(-6).tickFormat(""));
    styleAxis(ry, 17);

    g.append("rect").attr("x", px).attr("y", py).attr("width", pw).attr("height", ph)
      .attr("fill", "none").attr("stroke", ink).attr("stroke-width", 1.4);

    // inset
    var ins = insets[r][c];
    var ix0 = px + pw - insW, iy1 = py + insH;
    var xi = d3.scaleLinear().domain(c == 0 ? insetXRed : insetXOx).range([ix0, px + pw]);
    var yDom = c == 0 ? insYRed[r] : insYOx[r];
    var steps = c == 0 ? insStepRed[r] : insStepOx[r];
    var yi = d3.scaleLinear().domain(yDom).range([iy1, py]);
    var ig = g.append("g");
    ig.append("rect").attr("x", ix0).attr("y", py).attr("width", insW).attr("height", insH).attr("fill", "#fff");

    var icid = "iclip" + r + "_" + c;
    svg.append("clipPath").attr("id", icid).append("rect")
      .attr("x", ix0).attr("y", py).attr("width", insW).attr("height", insH);

    var e0 = c == 0 ? eRed[r] : eOx[r];
    ig.append("line").attr("x1", xi(e0)).attr("x2", xi(e0)).attr("y1", py).attr("y2", iy1)
      .attr("stroke", ink).attr("stroke-width", 1.2).attr("stroke-dasharray", "2,2.5");

    var fitLine = d3.line()
      .x(function(d) { return xi(d[0]); })
      .y(function(d) { return yi(d[1]); })
      .curve(d3.curveMonotoneX);
    ig.append("path").attr("clip-path", "url(#" + icid + ")")
      .attr("d", fitLine(ins.fit)).attr("fill", "none").attr("stroke", ink).attr("stroke-width", 1.3);

    ig.selectAll("circle").data(ins.e).enter().append("circle")
      .attr("cx", function(d) { return xi(d); })
      .attr("cy", function(d, i) { return yi(ins.a[i]); })
      .attr("r", 4.3).attr("fill", ink);

    var ixAx = ig.append("g").attr("transform", "translate(0," + iy1 + ")")
      .call(d3.axisBottom(xi).tickValues(c == 0 ? insetTicksRed : insetTicksOx)
        .tickSize(-4).tickPadding(11)
        .tickFormat(function(v) { return inList(v, c == 0 ? insetLabRed : insetLabOx) ? v.toFixed(1) : ""; }));
    styleAxis(ixAx, 14);
    var majors = stepTicks(yDom, steps[0]);
    var iyAx = ig.append("g").attr("transform", "translate(" + ix0 + ",0)")
      .call(d3.axisLeft(yi).tickValues(stepTicks(yDom, steps[1])).tickSize(-4).tickPadding(8)
        .tickFormat(function(v) { return inList(v, majors) ? v.toFixed(2) : ""; }));
    styleAxis(iyAx, 14);
    ig.append("path").attr("d", "M" + ix0 + "," + py + "V" + iy1 + "H" + (px + pw))
      .attr("fill", "none").attr("stroke", ink).attr("stroke-width", 1.3);
    ig.append("text").attr("x", ix0 + insW / 2).attr("y", iy1 + 48)
      .attr("text-anchor", "middle").style("font-size", "20px").text("E / V");

    // lambda box
    var lam = c == 0 ? lamRed[r] : lamOx[r];
    g.append("rect").attr("x", px + pw - 125).attr("y", py).attr("width", 125).attr("height", 36)
      .attr("fill", "#fff").attr("stroke", ink).attr("stroke-width", 1.3);
    g.append("text").attr("x", px + pw - 62).attr("y", py + 25).attr("text-anchor", "middle")
      .style("font-size", "19px").text("\u03bb = " + lam + " nm");

    // potential box
    var eb = g.append("rect").attr("x", px).attr("y", py).attr("height", 39)
      .attr("fill", "#fff").attr("stroke", ink).attr("stroke-width", 1.3);
    var et = g.append("text").attr("x", px + 12).attr("y", py + 28).style("font-size", "21px");
    et.append("tspan").text("E");
    et.append("tspan").attr("dy", 5).style("font-size", "14px").text(c == 0 ? "red" : "ox");
    et.append("tspan").attr("dy", -5).text(" = " + e0.toFixed(2) + " V");
    eb.attr("width", et.node().getComputedTextLength() + 28);
  });

  // compound label
  svg.append("text").attr("x", 1112).attr("y", top0 + r * ph + 109)
    .style("font-size", "26px").text(name);
});

// titles
svg.append("text").attr("x", colX[0] + pw / 2).attr("y", 37).attr("text-anchor", "middle")
  .style("font-size", "25px").text("Reduction");
svg.append("text").attr("x", colX[1] + pw / 2).attr("y", 37).attr("text-anchor", "middle")
  .style("font-size", "25px").text("Oxidation");
svg.append("text").attr("transform", "translate(36," + (top0 + 5 * ph / 2) + ") rotate(-90)")
  .attr("text-anchor", "middle").style("font-size", "25px").text("Absorbance");
svg.append("text").attr("x", 578).attr("y", 1193).attr("text-anchor", "middle")
  .style("font-size", "22px").text("\u03bb / nm");
</script>
</body>
</html>
